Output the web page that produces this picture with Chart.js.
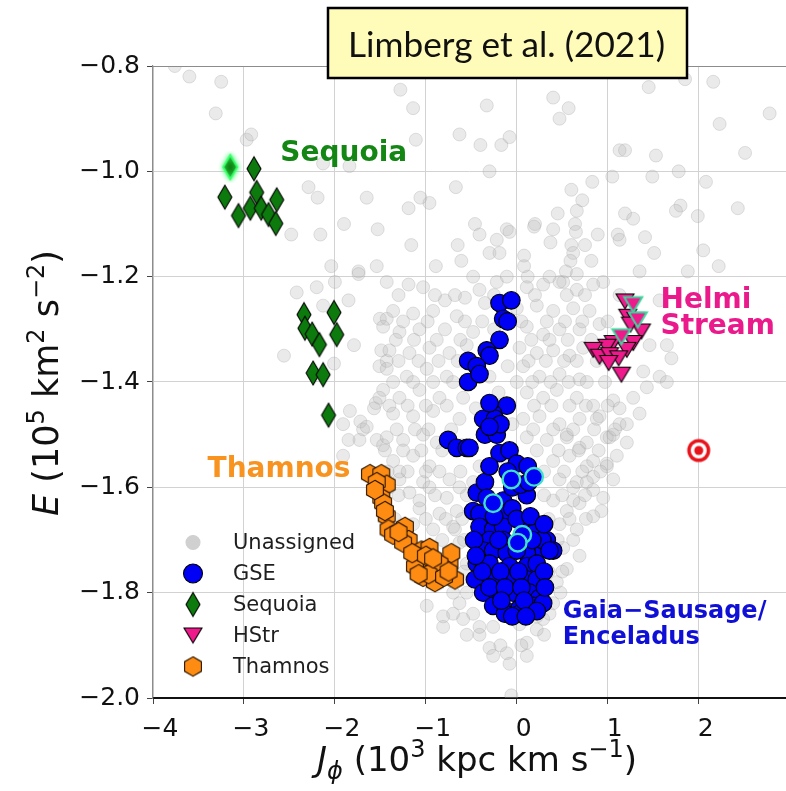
<!DOCTYPE html>
<html lang="en">
<head>
<meta charset="utf-8">
<title>Limberg et al. (2021) - E vs J_phi</title>
<script src="https://cdn.jsdelivr.net/npm/chart.js"></script>
<style>
  body { margin: 0; background: #fff; }
  canvas { display: block; }
</style>
</head>
<body>
<canvas id="chart" width="786" height="791"></canvas>
<script>
// J_phi (10^3 kpc km/s), E (10^5 km^2/s^2)
const unassigned = [
  [-3.76,-0.80],[-3.60,-0.82],[-3.25,-0.83],[-3.31,-0.89],[-2.97,-0.94],[-2.92,-0.93],[-2.29,-1.03],[-2.19,-1.05],
  [-2.48,-1.12],[-2.16,-1.12],[-1.90,-1.10],[-1.84,-0.99],[-1.65,-1.05],[-1.53,-1.11],[-1.28,-0.845],[-1.14,-0.88],
  [-1.11,-0.94],[-1.19,-1.07],[-1.06,-1.05],[-0.96,-1.06],[-1.16,-1.14],[-0.63,-0.93],[-0.67,-1.03],[-0.65,-1.14],
  [-0.89,-1.18],[-0.61,-1.17],[-2.04,-1.18],[-1.74,-1.19],[-1.54,-1.18],[-2.13,-0.985],
  [-0.33,-0.875],[-0.40,-0.95],[-0.17,-0.95],[-0.08,-0.935],[0.40,-0.86],[0.57,-0.88],[0.47,-0.90],[-0.30,-1.00],
  [1.45,-0.84],[1.85,-0.825],[2.16,-0.83],[2.78,-0.89],[2.23,-0.91],[2.51,-0.965],[1.13,-0.96],[1.19,-0.96],
  [1.53,-0.97],[1.49,-1.01],[1.78,-1.00],[2.08,-1.02],[1.05,-1.01],[0.83,-1.02],[0.60,-1.035],[0.72,-1.055],
  [0.66,-1.075],[0.45,-1.08],[0.20,-1.10],[0.19,-1.105],[0.40,-1.11],[0.64,-1.10],[0.65,-1.115],[0.37,-1.135],
  [0.60,-1.14],[0.62,-1.155],[0.59,-1.17],[0.75,-1.14],[0.89,-1.12],[0.82,-1.17],[1.19,-1.08],[1.28,-1.09],
  [1.41,-1.125],[1.11,-1.12],[1.13,-1.13],[1.51,-1.155],[1.80,-1.065],[1.75,-1.075],[1.99,-1.085],[2.43,-1.07],
  [2.05,-1.15],[2.22,-1.18],[1.88,-1.19],[-0.46,-1.10],[-0.41,-1.12],[-0.22,-1.13],[-0.11,-1.11],[-0.08,-1.115],
  [-0.30,-1.155],[-0.19,-1.155],[0.08,-1.16],[0.08,-1.18],[-0.48,-1.20],[-0.22,-1.21],[-0.11,-1.20],[0.12,-1.20],
  [0.36,-1.20],[0.51,-1.21],[0.66,-1.195],[0.95,-1.21],[0.54,-1.19],
  [-2.42,-1.23],[-2.20,-1.22],[-2.00,-1.21],[-1.85,-1.245],[-1.74,-1.195],[-2.13,-1.255],[-1.79,-1.33],[-2.56,-1.35],
  [-2.01,-1.365],[-1.505,-1.28],[-1.43,-1.28],[-1.49,-1.34],[-1.51,-1.37],[-1.43,-1.36],[-1.835,-1.455],[-1.91,-1.48],
  [-1.72,-1.475],[-1.69,-1.49],[-1.65,-1.485],[-1.73,-1.51],[-1.85,-1.51],[-1.47,-1.52],[-1.91,-1.54],[-1.54,-1.51],
  [-1.19,-1.215],[-1.03,-1.22],[-1.43,-1.21],[-0.79,-1.245],[-0.57,-1.24],[-0.41,-1.225],[0.11,-1.22],[0.29,-1.215],
  [0.47,-1.21],[0.66,-1.225],[0.84,-1.215],[-1.36,-1.265],[-1.14,-1.27],[-0.92,-1.265],[-0.66,-1.275],[0.22,-1.255],
  [0.40,-1.265],[0.62,-1.26],[0.80,-1.265],[-1.47,-1.295],[-1.29,-1.305],[-1.07,-1.30],[-0.79,-1.30],[-0.48,-1.305],
  [0.11,-1.295],[0.29,-1.31],[0.47,-1.30],[0.69,-1.30],[0.91,-1.29],[-1.40,-1.34],[-1.18,-1.345],[-0.96,-1.335],
  [-0.74,-1.345],[0.03,-1.335],[0.22,-1.345],[0.40,-1.34],[0.58,-1.35],[0.73,-1.335],[-1.43,-1.375],[-1.21,-1.39],
  [-0.99,-1.375],[-0.77,-1.39],[-0.30,-1.39],[0.07,-1.37],[0.25,-1.39],[0.47,-1.385],[0.69,-1.395],[-1.47,-1.415],
  [-1.29,-1.43],[-1.07,-1.415],[-0.85,-1.43],[-0.59,-1.43],[0.11,-1.42],[0.29,-1.43],[0.44,-1.415],[0.66,-1.43],
  [0.84,-1.445],[1.06,-1.435],[-1.36,-1.46],[-1.14,-1.465],[-0.92,-1.455],[-0.63,-1.47],[0.07,-1.47],[0.25,-1.465],
  [0.47,-1.48],[0.69,-1.47],[0.91,-1.465],[1.13,-1.48],[-1.43,-1.505],[-1.25,-1.51],[-1.03,-1.50],[-0.88,-1.515],
  [0.11,-1.505],[0.33,-1.51],[0.55,-1.505],[0.77,-1.515],[0.99,-1.505],[-1.36,-1.55],[-1.14,-1.54],[-0.96,-1.56],
  [-0.41,-1.56],[0.40,-1.55],[0.58,-1.54],[0.77,-1.56],[0.99,-1.555],[-1.29,-1.585],[-1.03,-1.59],[-0.74,-1.585],
  [-0.48,-1.59],[0.47,-1.585],[0.66,-1.59],[0.84,-1.58],
  [1.46,-1.33],[1.65,-1.33],[1.70,-1.355],[1.39,-1.38],[1.57,-1.39],[1.65,-1.40],[1.43,-1.41],[1.28,-1.43],
  [1.13,-1.45],[1.35,-1.46],[1.21,-1.48],[1.02,-1.505],[1.21,-1.515],[1.10,-1.54],[0.99,-1.56],[1.06,-1.585],
  [0.95,-1.62],[0.93,-1.645],
  [-1.40,-1.60],[-1.18,-1.61],[-0.96,-1.60],[-0.77,-1.62],[-0.63,-1.60],[-1.07,-1.64],[-0.85,-1.65],[-0.66,-1.645],
  [-1.14,-1.67],[-0.92,-1.68],[-0.70,-1.675],[-0.63,-1.705],[-0.55,-1.745],[-0.63,-1.775],[-0.99,-1.825],[-0.81,-1.845],
  [-0.63,-1.82],[-0.81,-1.865],[-0.59,-1.85],[-0.41,-1.88],[-0.30,-1.905],[-0.11,-1.915],[0.11,-1.92],[-0.08,-1.935],
  [-0.26,-1.92],[0.11,-1.895],[0.22,-1.87],[0.03,-1.86],[-0.41,-1.865],[-0.26,-1.865],[-0.06,-1.995],
  [0.40,-1.625],[0.55,-1.645],[0.69,-1.63],[0.84,-1.655],[0.47,-1.67],[0.66,-1.68],[0.51,-1.715],[0.69,-1.73],
  [0.55,-1.755],[0.44,-1.78],[0.40,-1.82],[0.29,-1.85],[0.22,-1.845],[0.84,-1.605],[0.62,-1.60],
  [0.55,-1.50],[0.69,-1.525],[0.84,-1.55],[0.77,-1.59],[0.62,-1.625],[0.88,-1.47],[1.06,-1.50],[-1.29,-1.57],
  [-1.07,-1.625],[-0.85,-1.57],[-0.68,-1.68],[-1.51,-1.605],[-1.34,-1.66],[1.35,-1.19],[1.13,-1.235],[1.57,-1.245],
  [-1.55,-1.44],[-1.51,-1.43],[-1.57,-1.45],[-0.35,-1.25],[-0.25,-1.30],[-0.20,-1.42],[-0.45,-1.45],[-0.10,-1.37],
  [-0.05,-1.48],[0.00,-1.26],[-0.60,-1.52],[-0.55,-1.33],[-0.10,-1.55],
  [-1.30,-1.235],[-0.90,-1.235],[-0.68,-1.235],[-0.25,-1.235],[0.20,-1.235],[0.55,-1.235],[0.75,-1.235],
  [-1.25,-1.285],[-0.98,-1.285],[-0.57,-1.285],[-0.38,-1.285],[0.05,-1.285],[0.33,-1.285],[0.53,-1.285],[0.72,-1.285],[1.00,-1.285],
  [-1.33,-1.32],[-1.13,-1.32],[-0.88,-1.32],[-0.62,-1.32],[0.16,-1.32],[0.36,-1.32],[0.56,-1.32],[0.82,-1.32],
  [-1.30,-1.36],[-1.08,-1.36],[-0.86,-1.36],[-0.65,-1.36],[0.13,-1.36],[0.32,-1.36],[0.52,-1.36],[0.66,-1.36],[0.88,-1.36],
  [-1.36,-1.40],[-1.14,-1.40],[-0.92,-1.40],[-0.70,-1.40],[0.00,-1.40],[0.17,-1.40],[0.37,-1.40],[0.57,-1.40],[0.77,-1.40],[0.97,-1.40],
  [-1.40,-1.445],[-1.20,-1.445],[-1.00,-1.445],[-0.77,-1.445],[0.19,-1.445],[0.38,-1.445],[0.58,-1.445],[0.76,-1.445],[1.00,-1.445],
  [-1.32,-1.49],[-1.12,-1.49],[-0.97,-1.49],[-0.72,-1.49],[0.18,-1.49],[0.40,-1.49],[0.62,-1.49],[0.85,-1.49],[1.08,-1.49],
  [-1.45,-1.53],[-1.25,-1.53],[-1.05,-1.53],[-0.82,-1.53],[0.22,-1.53],[0.46,-1.53],[0.68,-1.53],[0.90,-1.53],
  [-1.42,-1.57],[-1.20,-1.57],[-1.00,-1.57],[-0.62,-1.57],[0.30,-1.57],[0.52,-1.57],[0.72,-1.57],[0.92,-1.57],
  [-1.30,-1.615],[-0.90,-1.615],[-0.55,-1.615],[0.30,-1.615],[0.50,-1.615],[0.75,-1.615],
  [-1.00,-1.66],[-0.78,-1.66],[-0.60,-1.66],[0.35,-1.66],[0.58,-1.66],[0.76,-1.66],
  [-0.82,-1.70],[-0.58,-1.70],[0.45,-1.70],[0.62,-1.70],[-0.75,-1.76],[-0.58,-1.76],[0.35,-1.76],[0.50,-1.76],
  [-0.70,-1.80],[-0.55,-1.80],[0.48,-1.80],[-0.70,-1.84],[-0.48,-1.84],[0.36,-1.84],[-0.55,-1.88],[0.30,-1.88],
  [-0.18,-1.90],[0.05,-1.90]
];

const gse = [
  [-0.19,-1.25],[-0.06,-1.245],[-0.15,-1.28],[-0.10,-1.285],[-0.19,-1.32],[-0.33,-1.34],[-0.30,-1.35],[-0.535,-1.36],
  [-0.44,-1.37],[-0.535,-1.40],[-0.41,-1.385],[-0.11,-1.445],[-0.26,-1.46],[-0.37,-1.47],[-0.24,-1.47],[-0.35,-1.50],
  [-0.22,-1.50],[-0.755,-1.51],[-0.66,-1.525],[-0.55,-1.525],[-0.52,-1.525],[-0.19,-1.535],[-0.08,-1.53],[0.00,-1.555],
  [0.12,-1.56],[0.11,-1.615],[-0.44,-1.61],[-0.48,-1.645],[-0.41,-1.65],[-0.15,-1.625],[-0.15,-1.65],[-0.35,-1.59],
  [-0.05,-1.60],[0.04,-1.595],[-0.41,-1.675],[-0.26,-1.68],[-0.15,-1.675],[-0.30,-1.70],[-0.15,-1.70],[0.07,-1.67],
  [0.22,-1.68],[0.33,-1.70],[0.40,-1.72],[0.25,-1.72],[-0.37,-1.72],[-0.26,-1.72],[-0.11,-1.725],[0.11,-1.725],
  [-0.44,-1.745],[-0.30,-1.745],[-0.08,-1.75],[0.11,-1.75],[0.22,-1.745],[-0.46,-1.775],[-0.26,-1.775],[-0.08,-1.775],
  [0.11,-1.775],[0.22,-1.775],[-0.37,-1.80],[-0.22,-1.80],[-0.04,-1.80],[0.14,-1.80],[0.25,-1.81],[-0.26,-1.825],
  [-0.11,-1.835],[0.03,-1.83],[0.18,-1.825],[0.29,-1.82],[-0.13,-1.84],[0.03,-1.84],
  [-0.30,-1.44],[-0.18,-1.48],[-0.30,-1.485],[-0.30,-1.56],[-0.10,-1.57],[0.13,-1.59],
  [-0.33,-1.62],[-0.25,-1.655],[-0.05,-1.64],[0.00,-1.66],[0.15,-1.655],[0.28,-1.70],[-0.47,-1.70],[-0.20,-1.70],
  [0.00,-1.72],[0.17,-1.70],[-0.38,-1.76],[-0.18,-1.76],[0.02,-1.76],[0.30,-1.76],[-0.30,-1.79],[-0.13,-1.79],
  [0.05,-1.79],[0.31,-1.79],[-0.45,-1.73],[-0.17,-1.815],[0.08,-1.815],[0.22,-1.835],[-0.05,-1.845],[0.10,-1.845],
  [0.36,-1.72],[0.30,-1.67]
];
const gseRinged = [[-0.06,-1.585],[0.19,-1.58],[-0.26,-1.63],[0.06,-1.69],[0.01,-1.705]];

const sequoia = [
  [-2.89,-0.995],[-3.21,-1.049],[-3.06,-1.084],[-2.86,-1.040],[-2.93,-1.070],[-2.81,-1.070],[-2.73,-1.082],
  [-2.64,-1.054],[-2.65,-1.099],[-2.34,-1.272],[-2.33,-1.298],[-2.25,-1.309],[-2.17,-1.329],[-2.01,-1.268],
  [-1.98,-1.310],[-2.24,-1.383],[-2.13,-1.386],[-2.07,-1.463]
];
const sequoiaRinged = [[-3.15,-0.992]];

const hstr = [
  [1.19,-1.247],[1.22,-1.276],[1.31,-1.282],[1.37,-1.304],[1.28,-1.326],[1.21,-1.339],[1.06,-1.326],[0.99,-1.333],
  [0.84,-1.339],[0.91,-1.352],[1.02,-1.349],[1.12,-1.355],[1.01,-1.364],[1.15,-1.386],[1.25,-1.291]
];
const hstrRinged = [[1.28,-1.253],[1.33,-1.282],[1.15,-1.314]];

const thamnos = [
  [-1.615,-1.575],[-1.49,-1.575],[-1.43,-1.595],[-1.54,-1.59],[-1.49,-1.62],[-1.47,-1.63],[-1.43,-1.655],[-1.41,-1.68],
  [-1.36,-1.69],[-1.23,-1.675],[-1.19,-1.70],[-1.25,-1.705],[-1.05,-1.72],[-0.96,-1.715],[-1.07,-1.74],[-0.99,-1.75],
  [-1.03,-1.77],[-0.88,-1.76],[-0.90,-1.78],[-0.74,-1.745],[-0.68,-1.775],[-0.72,-1.725],[-0.85,-1.745],[-1.12,-1.75],
  [-0.97,-1.765],[-1.56,-1.605],[-1.45,-1.645],[-1.30,-1.685],[-1.15,-1.725],[-1.00,-1.73],[-0.92,-1.735],[-0.80,-1.77],
  [-1.08,-1.765],[-0.75,-1.76]
];

const sunPoint = [[2.0,-1.53]];

const xTicks = [-4, -3, -2, -1, 0, 1, 2];
const yTicks = [-2.0, -1.8, -1.6, -1.4, -1.2, -1.0, -0.8];

// group labels: text lines, x and E of the first baseline
const groupLabels = [
  { lines: ['Sequoia'], x: -2.60, y: -0.98, color: '#138613', size: 28 },
  { lines: ['Helmi', 'Stream'], x: 1.58, y: -1.259, color: '#ea1a8c', size: 28 },
  { lines: ['Thamnos'], x: -3.40, y: -1.58, color: '#f7931e', size: 28 },
  { lines: ['Gaia\u2212Sausage/', 'Enceladus'], x: 0.505, y: -1.848, color: '#0f0fd6', size: 24 }
];

const toXY = arr => arr.map(p => ({ x: p[0], y: p[1] }));
const minus = v => (v < -1e-9 ? '\u2212' : '');

// ---- marker images ----
function sprite(w, h, draw) {
  const c = document.createElement('canvas');
  c.width = w; c.height = h;
  draw(c.getContext('2d'), w / 2, h / 2);
  return c;
}
function diamond(edge, lw, glow) {
  return sprite(24, 32, (g, cx, cy) => {
    g.beginPath();
    g.moveTo(cx, cy - 12); g.lineTo(cx + 7, cy); g.lineTo(cx, cy + 12); g.lineTo(cx - 7, cy); g.closePath();
    if (glow) { g.shadowColor = glow; g.shadowBlur = 5; }
    g.fillStyle = '#0d7a0d'; g.fill();
    g.lineWidth = lw; g.strokeStyle = edge; g.stroke();
  });
}
function triangleDown(edge, lw) {
  return sprite(22, 20, (g) => {
    g.beginPath();
    g.moveTo(2, 2.5); g.lineTo(20, 2.5); g.lineTo(11, 17.5); g.closePath();
    g.fillStyle = '#ee1a8c'; g.fill();
    g.lineWidth = lw; g.strokeStyle = edge; g.stroke();
  });
}
const hexagon = sprite(22, 22, (g, cx, cy) => {
  g.beginPath();
  for (let k = 0; k < 6; k++) {
    const a = -Math.PI / 2 + k * Math.PI / 3;
    const px = cx + 9.7 * Math.cos(a), py = cy + 9.7 * Math.sin(a);
    k ? g.lineTo(px, py) : g.moveTo(px, py);
  }
  g.closePath();
  g.fillStyle = '#ff8c12'; g.fill();
  g.lineWidth = 1.1; g.strokeStyle = '#2a1600'; g.stroke();
});
const target = sprite(26, 26, (g, cx, cy) => {
  [[11.5, '#e8141c'], [8, '#ffffff'], [4.5, '#e8141c']].forEach(([r, col]) => {
    g.beginPath(); g.arc(cx, cy, r, 0, 2 * Math.PI); g.fillStyle = col; g.fill();
  });
});
const seqDiamond = diamond('#000', 1.1);
const seqGlow = diamond('#39ff6a', 2, '#39ff6a');
const hstrTri = triangleDown('#000', 1.1);
const hstrRingTri = triangleDown('#3fd59c', 2);

// ---- overlay drawing (labels, legend, axis titles, citation box) ----
function drawRich(ctx, parts, x, y, base) {
  const fontOf = p => (p.italic ? 'italic ' : '') + (p.size || base) + 'px "DejaVu Sans"';
  let total = 0;
  parts.forEach(p => { ctx.font = fontOf(p); p.w = ctx.measureText(p.t).width; total += p.w; });
  let cx = x - total / 2;
  ctx.textAlign = 'left';
  ctx.textBaseline = 'alphabetic';
  parts.forEach(p => { ctx.font = fontOf(p); ctx.fillText(p.t, cx, y + (p.dy || 0)); cx += p.w; });
}

const overlay = {
  id: 'overlay',
  afterDatasetsDraw(chart) {
    const { ctx, scales: { x, y } } = chart;
    ctx.save();
    ctx.textAlign = 'left';
    ctx.textBaseline = 'alphabetic';
    groupLabels.forEach(l => {
      ctx.font = 'bold ' + l.size + 'px "DejaVu Sans"';
      ctx.fillStyle = l.color;
      l.lines.forEach((t, i) => ctx.fillText(t, x.getPixelForValue(l.x), y.getPixelForValue(l.y) + i * 26.5));
    });

    // legend inside the axes, lower left
    const items = chart.data.datasets.filter(d => d.inLegend);
    const mx = 193, tx = 233;
    items.forEach((d, i) => {
      const cy = 542.5 + i * 31;
      if (d.pointStyle === 'circle') {
        ctx.beginPath();
        ctx.arc(mx, cy, d.legendRadius, 0, 2 * Math.PI);
        ctx.fillStyle = d.legendColor || d.backgroundColor;
        ctx.fill();
        if (d.borderWidth) { ctx.lineWidth = 1.1; ctx.strokeStyle = d.legendEdge || d.borderColor; ctx.stroke(); }
      } else {
        const img = d.pointStyle;
        ctx.drawImage(img, mx - img.width / 2, cy - img.height / 2);
      }
      ctx.fillStyle = '#1e1e1e';
      ctx.font = '21px "DejaVu Sans"';
      ctx.textBaseline = 'middle';
      ctx.fillText(d.label, tx, cy + 1);
      ctx.textBaseline = 'alphabetic';
    });
    ctx.restore();
  },
  afterDraw(chart) {
    const { ctx, chartArea: a } = chart;
    ctx.save();
    // top spine
    ctx.strokeStyle = '#8c8c8c';
    ctx.lineWidth = 1.2;
    ctx.beginPath(); ctx.moveTo(a.left, a.top + 0.5); ctx.lineTo(a.right, a.top + 0.5); ctx.stroke();

    ctx.fillStyle = '#111';
    // x axis title
    drawRich(ctx, [
      { t: 'J', italic: true }, { t: '\u03d5', italic: true, size: 24, dy: 8 },
      { t: ' (10' }, { t: '3', size: 24, dy: -14 }, { t: ' kpc km s' }, { t: '\u22121', size: 24, dy: -14 }, { t: ')' }
    ], 477, 771, 34);
    // y axis title, rotated
    ctx.save();
    ctx.translate(58, 383);
    ctx.rotate(-Math.PI / 2);
    drawRich(ctx, [
      { t: 'E', italic: true }, { t: ' (10' }, { t: '5', size: 24, dy: -14 }, { t: ' km' }, { t: '2', size: 24, dy: -14 },
      { t: ' s' }, { t: '\u22122', size: 24, dy: -14 }, { t: ')' }
    ], 0, 0, 35);
    ctx.restore();

    // citation box
    ctx.fillStyle = '#fffbb8';
    ctx.fillRect(328, 8, 359, 70);
    ctx.lineWidth = 2.5;
    ctx.strokeStyle = '#000';
    ctx.strokeRect(328, 8, 359, 70);
    const cite = 'Limberg et al. (2021)';
    let fs = 34;
    ctx.font = fs + 'px Lato';
    fs = fs * 317 / ctx.measureText(cite).width;
    ctx.font = fs.toFixed(1) + 'px Lato';
    ctx.fillStyle = '#111';
    ctx.textAlign = 'left';
    ctx.textBaseline = 'alphabetic';
    ctx.fillText(cite, 348, 57);
    ctx.restore();
  }
};

Chart.defaults.font.family = '"DejaVu Sans", sans-serif';
Chart.defaults.color = '#111';

const ctx = document.getElementById('chart').getContext('2d');
const chart = new Chart(ctx, {
  type: 'scatter',
  data: {
    datasets: [
      { label: 'Unassigned', data: toXY(unassigned), pointStyle: 'circle', pointRadius: 6.5,
        backgroundColor: 'rgba(185,185,185,0.3)', borderColor: 'rgba(160,160,160,0.3)', borderWidth: 1,
        order: 10, inLegend: true, legendRadius: 7, legendColor: '#d0d0d0', legendEdge: '#d0d0d0' },
      { label: 'GSE', data: toXY(gse), pointStyle: 'circle', pointRadius: 8.8,
        backgroundColor: '#0000f5', borderColor: '#000', borderWidth: 1.1, order: 6, inLegend: true, legendRadius: 9.5 },
      { label: 'Sequoia', data: toXY(sequoia), pointStyle: seqDiamond, order: 5, inLegend: true },
      { label: 'HStr', data: toXY(hstr), pointStyle: hstrTri, order: 4, inLegend: true },
      { label: 'Thamnos', data: toXY(thamnos), pointStyle: hexagon, order: 3, inLegend: true },
      { label: 'GSE (ringed)', data: toXY(gseRinged), pointStyle: 'circle', pointRadius: 8.8,
        backgroundColor: '#0000f5', borderColor: '#40e0c8', borderWidth: 2.4, order: 2 },
      { label: 'Sequoia (ringed)', data: toXY(sequoiaRinged), pointStyle: seqGlow, order: 2 },
      { label: 'HStr (ringed)', data: toXY(hstrRinged), pointStyle: hstrRingTri, order: 2 },
      { label: 'Sun', data: toXY(sunPoint), pointStyle: target, order: 1 }
    ]
  },
  options: {
    responsive: false,
    animation: false,
    devicePixelRatio: 1,
    layout: { autoPadding: false, padding: { top: 66, left: 0, right: 0, bottom: 0 } },
    plugins: { legend: { display: false }, tooltip: { enabled: false } },
    scales: {
      x: {
        type: 'linear', min: -4, max: 2.96,
        afterFit(s) { s.height = 93; s.paddingLeft = 0; s.paddingRight = 0; },
        afterBuildTicks(s) { s.ticks = xTicks.map(v => ({ value: v })); },
        ticks: { font: { size: 25 }, color: '#111', padding: 10, labelOffset: 7,
                 callback: v => minus(v) + Math.abs(v).toFixed(0) },
        grid: { color: '#d2d2d2', lineWidth: 1, tickLength: 6, tickColor: '#444' },
        border: { display: true, color: '#111', width: 2 }
      },
      y: {
        type: 'linear', min: -2.0, max: -0.8,
        afterFit(s) { s.width = 153; s.paddingTop = 0; s.paddingBottom = 0; },
        afterBuildTicks(s) { s.ticks = yTicks.map(v => ({ value: v })); },
        ticks: { font: { size: 25 }, color: '#111', padding: 7,
                 callback: v => minus(v) + Math.abs(v).toFixed(1) },
        grid: { color: '#d2d2d2', lineWidth: 1, tickLength: 6, tickColor: '#444' },
        border: { display: true, color: '#8c8c8c', width: 1.2 }
      }
    }
  },
  plugins: [overlay]
});
</script>
</body>
</html>
